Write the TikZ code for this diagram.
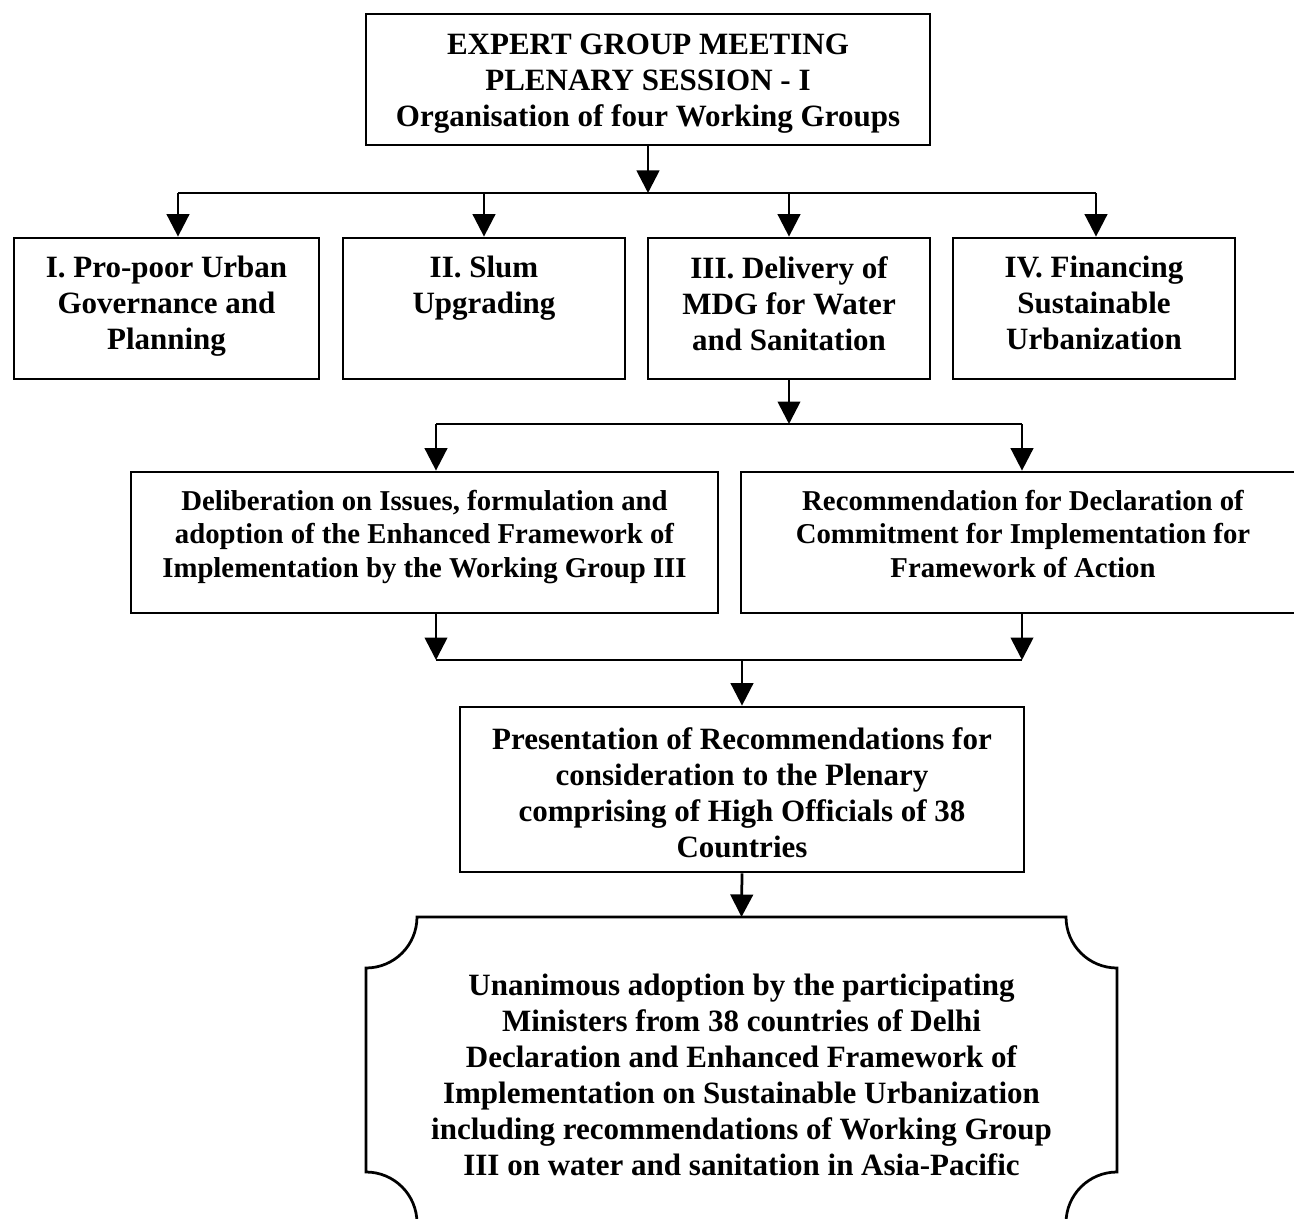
\documentclass[tikz,border=0pt]{standalone}
\usepackage{fontspec}
\setmainfont{Liberation Serif}
\usepackage{tikz}
\usetikzlibrary{arrows.meta, positioning, calc}

\begin{document}
\begin{tikzpicture}[x=0.4pt, y=-0.4pt,
    box/.style={draw, line width=1.1pt, align=center, inner sep=0pt,
      font=\fontsize{12.4pt}{14.4pt}\selectfont\bfseries,
      execute at begin node=\strut, execute at end node=\strut},
    small/.style={font=\fontsize{11.5pt}{13.4pt}\selectfont\bfseries},
    arr/.style={-{Triangle[length=9pt, width=9pt]}, line width=1.1pt},
    bus/.style={line width=1.1pt}]
  \useasboundingbox (0,0) rectangle (1294,1219);
  % top session
  \node[box, minimum width=225.6pt, minimum height=52.4pt] (top) at (648,79.5)
    {\rule{0pt}{13pt}EXPERT GROUP MEETING\\PLENARY SESSION - I\\Organisation of four Working Groups};
  % working groups
  \node[box, minimum width=122pt, minimum height=56.4pt] (g1) at (166.5,308.5)
    {I. Pro-poor Urban\\Governance and\\Planning};
  \node[box, minimum width=112.8pt, minimum height=56.4pt] (g2) at (484,308.5)
    {II. Slum\\Upgrading\\};
  \node[box, minimum width=112.8pt, minimum height=56.4pt] (g3) at (789,308.5)
    {III. Delivery of\\MDG for Water\\and Sanitation};
  \node[box, minimum width=112.8pt, minimum height=56.4pt] (g4) at (1094,308.5)
    {IV. Financing\\Sustainable\\Urbanization};
  % outcomes of group III
  \node[box, small, minimum width=234.8pt, minimum height=56.4pt] (d1) at (424.5,542.5)
    {Deliberation on Issues, formulation and\\adoption of the Enhanced Framework of\\Implementation by the Working Group III\rule[-7.2pt]{0pt}{7.2pt}};
  \node[box, small, minimum width=225.6pt, minimum height=56.4pt] (d2) at (1023,542.5)
    {Recommendation for Declaration of\\Commitment for Implementation for\\Framework of Action\rule[-7.2pt]{0pt}{7.2pt}};
  \node[box, minimum width=225.6pt, minimum height=66pt] (pres) at (742,789.5)
    {\rule{0pt}{15.7pt}Presentation of Recommendations for\\consideration to the Plenary\\comprising of High Officials of 38\\Countries};
  \node[box, draw=none, outer sep=0pt, minimum width=300.4pt, minimum height=122.4pt] (adopt) at (741.5,1070)
    {\rule{0pt}{16.5pt}Unanimous adoption by the participating\\Ministers from 38 countries of Delhi\\Declaration and Enhanced Framework of\\Implementation on Sustainable Urbanization\\including recommendations of Working Group\\III on water and sanitation in Asia-Pacific};
  \draw[line width=1.1pt]
    ($(adopt.north west)+(0,51)$)
    arc[start angle=270, end angle=360, radius=20.4pt]
    -- ($(adopt.north east)+(-51,0)$)
    arc[start angle=180, end angle=270, radius=20.4pt]
    -- ($(adopt.south east)+(0,-51)$)
    arc[start angle=90, end angle=180, radius=20.4pt]
    -- ($(adopt.south west)+(51,0)$)
    arc[start angle=0, end angle=90, radius=20.4pt] -- cycle;
  % buses
  \coordinate (bus1w) at (178,193);  \coordinate (bus1e) at (1096,193);
  \coordinate (bus2w) at (436,424);  \coordinate (bus2e) at (1022,424);
  \coordinate (bus3w) at (436,660);  \coordinate (bus3e) at (1022,660);
  \draw[bus] (bus1w) -- (bus1e);
  \draw[bus] (bus2w) -- (bus2e);
  \draw[bus] (bus3w) -- (bus3e);
  % connectors
  \draw[arr] (top.south) -- (top.south |- bus1w);
  \draw[arr] (bus1w) -- (bus1w |- g1.north);
  \draw[arr] (g2.north |- bus1w) -- (g2.north);
  \draw[arr] (g3.north |- bus1w) -- (g3.north);
  \draw[arr] (bus1e) -- (bus1e |- g4.north);
  \draw[arr] (g3.south) -- (g3.south |- bus2w);
  \draw[arr] (bus2w) -- (bus2w |- d1.north);
  \draw[arr] (bus2e) -- (bus2e |- d2.north);
  \draw[arr] (bus2w |- d1.south) -- (bus3w);
  \draw[arr] (bus2e |- d2.south) -- (bus3e);
  \draw[arr] (pres.north |- bus3w) -- (pres.north);
  \draw[arr] (pres.south) -- (adopt.north);
\end{tikzpicture}
\end{document}
